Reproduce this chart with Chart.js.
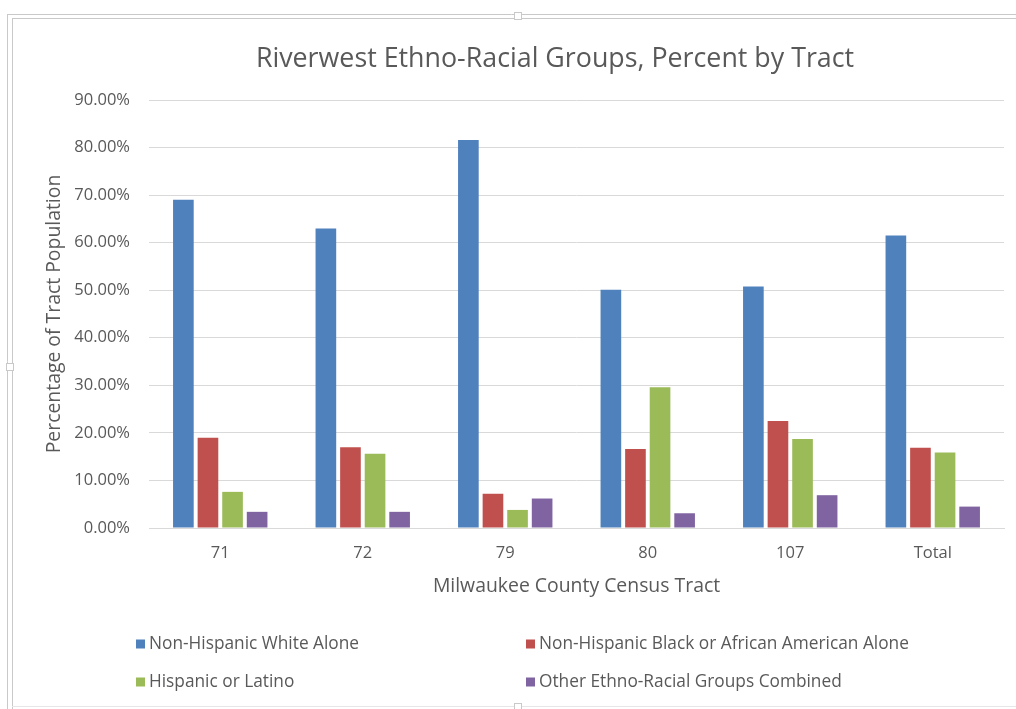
<!DOCTYPE html>
<html lang="en">
<head>
<meta charset="UTF-8">
<title>Riverwest Ethno-Racial Groups, Percent by Tract</title>
<script src="https://cdn.jsdelivr.net/npm/chart.js@4.4.1/dist/chart.umd.min.js"></script>
<style>
    html, body { margin: 0; padding: 0; background: #ffffff; }
    #wrap { position: relative; width: 1016px; height: 709px; }
</style>
</head>
<body>
<div id="wrap">
    <canvas id="tractChart" width="1016" height="709"></canvas>
</div>
<script>
// ============================
// Data (percent of tract population)
// ============================
const chartTitle = "Riverwest Ethno-Racial Groups, Percent by Tract";
const tracts = ["71", "72", "79", "80", "107", "Total"];
const groupNames = [
    "Non-Hispanic White Alone",
    "Non-Hispanic Black or African American Alone",
    "Hispanic or Latino",
    "Other Ethno-Racial Groups Combined"
];
const whiteAlone = [69.0, 63.0, 81.6, 50.1, 50.8, 61.5];
const blackAlone = [19.0, 17.0, 7.2, 16.6, 22.5, 16.9];
const hispanicLatino = [7.6, 15.6, 3.8, 29.6, 18.7, 15.9];
const otherGroups = [3.4, 3.4, 6.2, 3.1, 6.9, 4.5];
const groupColors = ["#4F81BD", "#C0504D", "#9BBB59", "#8064A2"];
const yMax = 90;
const yStep = 10;

// ============================
// Look
// ============================
const TEXT_GRAY = "#595959";
const GRID_GRAY = "#D9D9D9";
const FONT = "'Open Sans', Lato, sans-serif";

Chart.defaults.font.family = FONT;
Chart.defaults.color = TEXT_GRAY;

// ============================
// Frame around the chart object
// ============================
const chartFrame = {
    id: "chartFrame",
    beforeDraw(chart) {
        const ctx = chart.ctx;
        const w = chart.width;
        const h = chart.height;
        ctx.save();
        ctx.fillStyle = "#ffffff";
        ctx.fillRect(0, 0, w, h);
        ctx.strokeStyle = "#C9C9C9";
        ctx.lineWidth = 1;
        ctx.beginPath();
        ctx.moveTo(7, 14.5); ctx.lineTo(w, 14.5);
        ctx.moveTo(12, 18.5); ctx.lineTo(w, 18.5);
        ctx.moveTo(7.5, 14); ctx.lineTo(7.5, h);
        ctx.moveTo(12.5, 18); ctx.lineTo(12.5, h);
        ctx.stroke();
        ctx.strokeStyle = "#E6E6E6";
        ctx.beginPath();
        ctx.moveTo(12, 706.5); ctx.lineTo(w, 706.5);
        ctx.stroke();
        // sizing handles
        ctx.fillStyle = "#ffffff";
        ctx.strokeStyle = "#C9C9C9";
        [[518, 16], [10, 367], [518, 707]].forEach(([hx, hy]) => {
            ctx.fillRect(hx - 4, hy - 4, 8, 8);
            ctx.strokeRect(hx - 3.5, hy - 3.5, 7, 7);
        });
        ctx.restore();
    }
};

// ============================
// Title, set a little left of the plot centre
// ============================
const headTitle = {
    id: "headTitle",
    afterDraw(chart) {
        const ctx = chart.ctx;
        ctx.save();
        ctx.font = "26.8px " + FONT;
        ctx.fillStyle = TEXT_GRAY;
        ctx.textAlign = "center";
        ctx.textBaseline = "middle";
        ctx.fillText(chartTitle, 555, 59);
        ctx.restore();
    }
};

// ============================
// Legend in two columns under the axis title
// ============================
const gridLegend = {
    id: "gridLegend",
    afterDraw(chart) {
        const ctx = chart.ctx;
        const cols = [136, 526];
        const rows = [644, 682];
        ctx.save();
        ctx.font = "17.3px " + FONT;
        ctx.textBaseline = "middle";
        ctx.textAlign = "left";
        chart.data.datasets.forEach((ds, i) => {
            const x = cols[i % 2];
            const y = rows[Math.floor(i / 2)];
            ctx.fillStyle = ds.backgroundColor;
            ctx.fillRect(x, y - 4.5, 9, 9);
            ctx.fillStyle = TEXT_GRAY;
            ctx.fillText(ds.label, x + 13, y);
        });
        ctx.restore();
    }
};

// ============================
// Chart
// ============================
const seriesValues = [whiteAlone, blackAlone, hispanicLatino, otherGroups];

new Chart(document.getElementById("tractChart").getContext("2d"), {
    type: "bar",
    data: {
        labels: tracts,
        datasets: groupNames.map((name, i) => ({
            label: name,
            data: seriesValues[i],
            backgroundColor: groupColors[i],
            borderWidth: 0,
            categoryPercentage: 0.69,
            barPercentage: 0.84
        }))
    },
    options: {
        responsive: false,
        animation: false,
        devicePixelRatio: 1,
        layout: { padding: { top: 100, right: 12, bottom: 105, left: 0 } },
        plugins: {
            legend: { display: false },
            tooltip: { enabled: false },
            title: { display: false }
        },
        scales: {
            x: {
                grid: { display: false, drawTicks: false },
                border: { display: true, color: GRID_GRAY },
                ticks: { padding: 15, font: { size: 16.5 }, color: TEXT_GRAY },
                title: {
                    display: true,
                    text: "Milwaukee County Census Tract",
                    color: TEXT_GRAY,
                    font: { size: 19.4 },
                    padding: { top: 0, bottom: 6 }
                },
                afterFit(scale) { scale.height = 76; }
            },
            y: {
                min: 0,
                max: yMax,
                grid: { color: GRID_GRAY, drawTicks: false },
                border: { display: false },
                ticks: {
                    stepSize: yStep,
                    padding: 19,
                    font: { size: 16.5 },
                    color: TEXT_GRAY,
                    callback: v => v.toFixed(2) + "%"
                },
                title: {
                    display: true,
                    text: "Percentage of Tract Population",
                    color: TEXT_GRAY,
                    font: { size: 19.4 },
                    padding: { top: 43, bottom: 0 }
                },
                afterFit(scale) { scale.width = 149; }
            }
        }
    },
    plugins: [chartFrame, headTitle, gridLegend]
});
</script>
</body>
</html>
